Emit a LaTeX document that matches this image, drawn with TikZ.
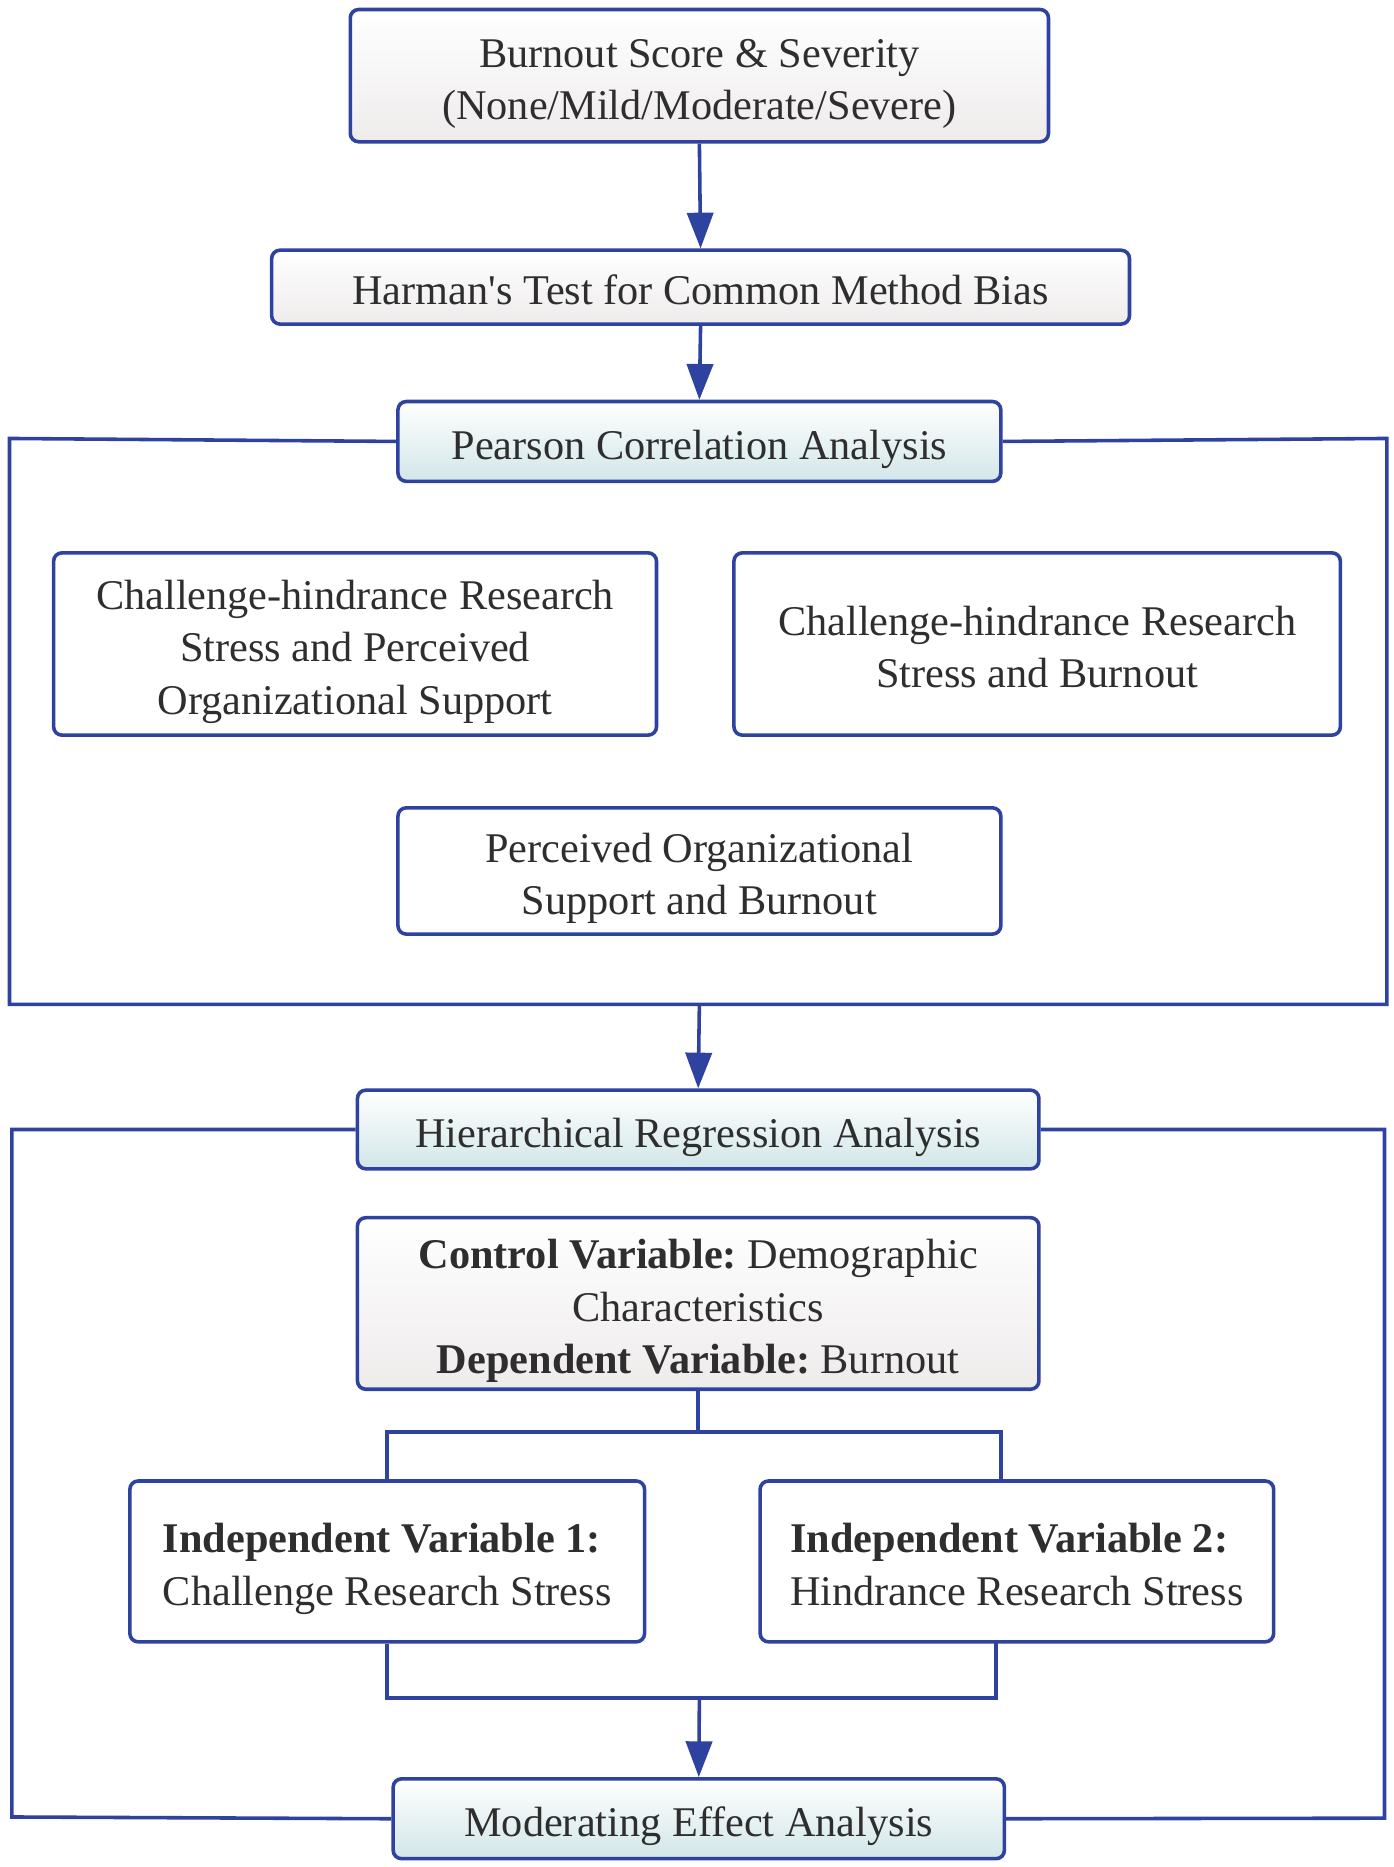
\documentclass[tikz,border=0pt]{standalone}
\usepackage{fontspec}
\setmainfont{Liberation Serif}
\usetikzlibrary{arrows.meta}
\frenchspacing
\definecolor{bl}{RGB}{46,66,160}
\definecolor{graybot}{RGB}{238,235,235}
\definecolor{tealbot}{RGB}{210,230,232}
\newcommand\tc[1]{\raisebox{-6pt}[\height][\depth]{\begin{tabular}{@{}c@{}}#1\end{tabular}}}
\newcommand\tl[1]{\raisebox{-6pt}[\height][\depth]{\begin{tabular}{@{}l@{}}#1\end{tabular}}}
\tikzset{
  box/.style={draw=bl,line width=3pt,rounded corners=7pt,inner sep=0pt,align=center,
    font=\fontsize{35.5}{44}\selectfont\frenchspacing,text=black!82},
  graybox/.style={box,top color=white,bottom color=graybot},
  tealbox/.style={box,top color=white,bottom color=tealbot},
  whitebox/.style={box,fill=white},
  conn/.style={draw=bl,line width=3pt},
  arr/.style={conn,-{Triangle[length=30pt,width=22pt]}},
}
\begin{document}
\begin{tikzpicture}[x=1pt,y=-1pt]
\useasboundingbox (0,0) rectangle (1170,1567);
% boxes
\node[graybox,minimum width=586pt,minimum height=111pt] (burn) at (587,63.5) {\tc{Burnout Score \& Severity\\(None/Mild/Moderate/Severe)}};
\node[graybox,minimum width=720pt,minimum height=62pt] (harm) at (588,241) {\tc{Harman\textquotesingle s Test for Common Method Bias}};
\node[tealbox,minimum width=506pt,minimum height=67pt] (pear) at (587,370.5) {\tc{Pearson Correlation Analysis}};
\node[whitebox,minimum width=506pt,minimum height=153pt] (chpos) at (298,540.5) {\tc{Challenge-hindrance Research\\Stress and Perceived\\Organizational Support}};
\node[whitebox,minimum width=509pt,minimum height=153pt] (chb) at (870.5,540.5) {\tc{Challenge-hindrance Research\\Stress and Burnout}};
\node[whitebox,minimum width=506pt,minimum height=106pt] (posb) at (587,731) {\tc{Perceived Organizational\\Support and Burnout}};
\node[tealbox,minimum width=572pt,minimum height=66pt] (hier) at (586,948) {\tc{Hierarchical Regression Analysis}};
\node[graybox,minimum width=572pt,minimum height=144pt] (ctrl) at (586,1094) {\tc{\textbf{Control Variable:} Demographic\\Characteristics\\\textbf{Dependent Variable:} Burnout}};
\node[whitebox,minimum width=432pt,minimum height=135pt] (iv1) at (325,1310.5) {\tl{\textbf{Independent Variable 1:}\\Challenge Research Stress}};
\node[whitebox,minimum width=431pt,minimum height=135pt] (iv2) at (853.5,1310.5) {\tl{\textbf{Independent Variable 2:}\\Hindrance Research Stress}};
\node[tealbox,minimum width=513pt,minimum height=67pt] (mod) at (586.5,1526.5) {\tc{Moderating Effect Analysis}};
% frame 1
\coordinate (f1tl) at (8,368);
\coordinate (f1bl) at (8,843);
\coordinate (f1br) at (1164,843);
\coordinate (f1tr) at (1164,368);
\coordinate (f1b) at (587,843);
\draw[conn] (pear.west) -- (f1tl) -- (f1bl) -- (f1br) -- (f1tr) -- (pear.east);
% frame 2
\coordinate (f2tl) at (10,948);
\coordinate (f2bl) at (10,1525);
\coordinate (f2tr) at (1162,948);
\coordinate (f2br) at (1162,1526);
\draw[conn] (hier.west) -- (f2tl) -- (f2bl) -- (mod.west);
\draw[conn] (hier.east) -- (f2tr) -- (f2br) -- (mod.east);
% arrows
\draw[arr] (burn.south) -- (harm.north);
\draw[arr] (harm.south) -- (pear.north);
\draw[arr] (f1b) -- (hier.north);
% tree
\coordinate (sp) at (586,1202);
\draw[conn] (ctrl.south) -- (sp);
\draw[conn] (iv1.north) -- (iv1.north |- sp) -- (840,1202) -- (840,1243);
\coordinate (jn) at (587,1425);
\draw[conn] (iv1.south) -- (iv1.south |- jn) -- (836,1425) -- (836,1378);
\draw[arr] (jn) -- (mod.north);
\end{tikzpicture}
\end{document}
